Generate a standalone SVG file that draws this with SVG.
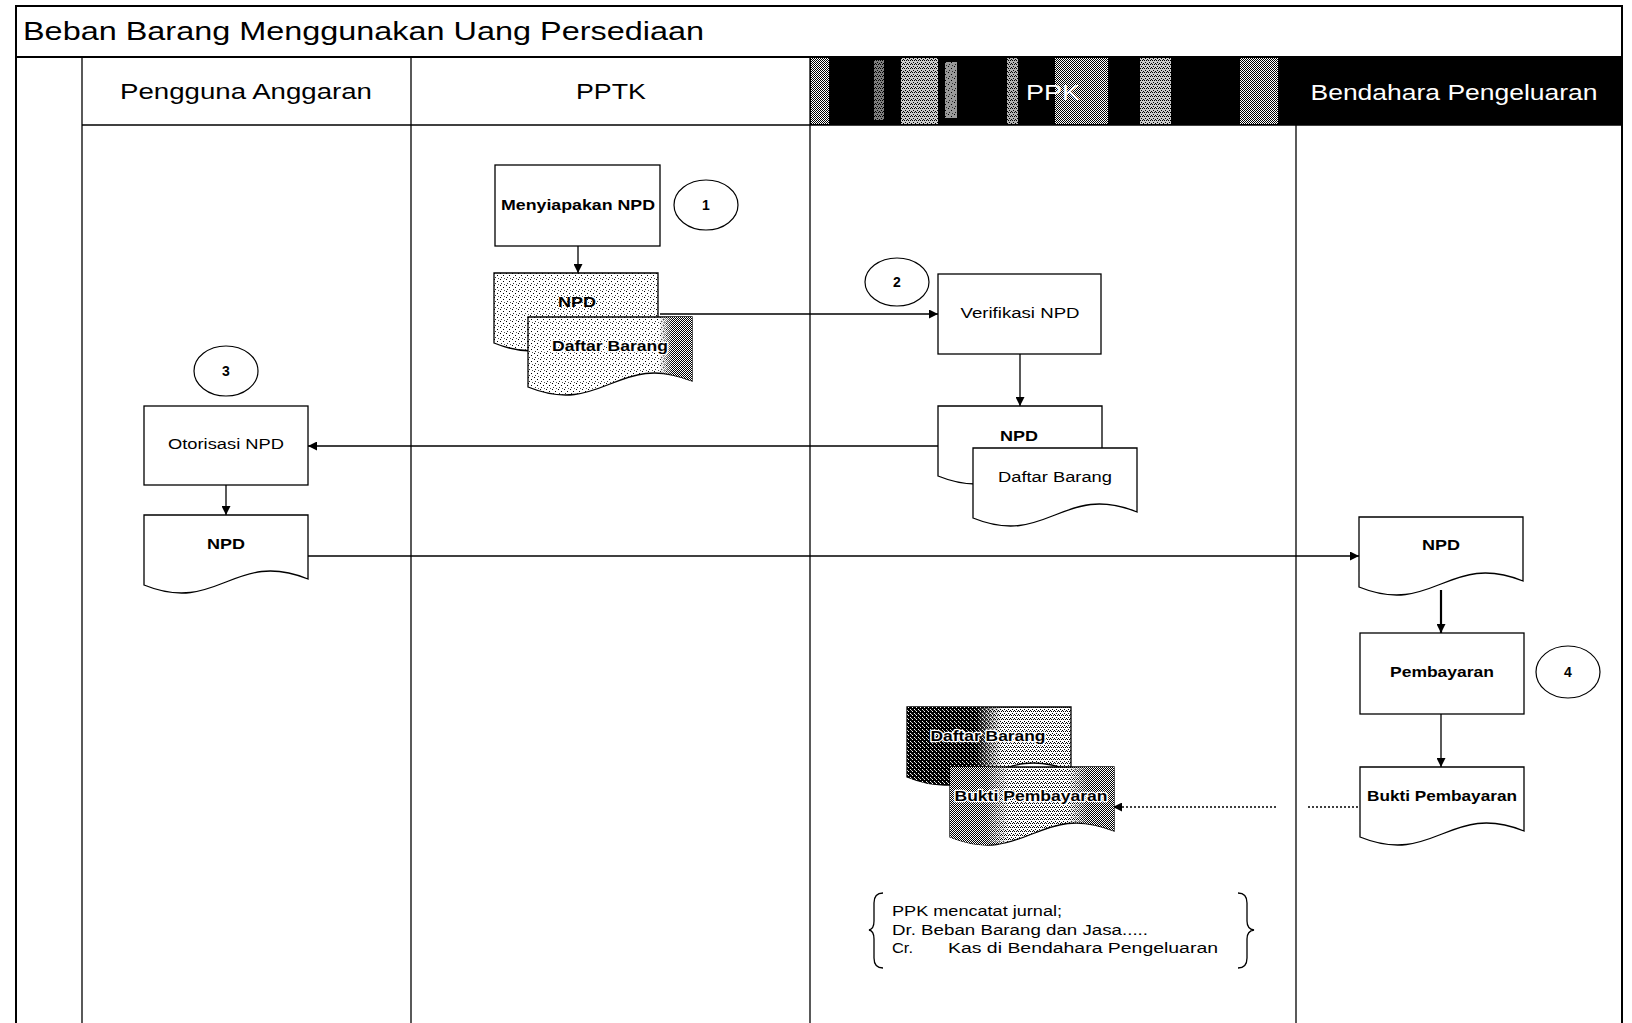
<svg xmlns="http://www.w3.org/2000/svg" xmlns:xlink="http://www.w3.org/1999/xlink" width="1632" height="1023" viewBox="0 0 1632 1023">
<style>
.frame{stroke:#000;stroke-width:2;fill:none}
.ln{stroke:#000;stroke-width:1.3;fill:none}
.box{fill:#fff;stroke:#000;stroke-width:1.3}
.circ{fill:#fff;stroke:#000;stroke-width:1.2}
.doc{stroke:#000;stroke-width:1.3}
.t{font-family:"Liberation Sans",Arial,sans-serif;font-size:14px;text-anchor:middle;fill:#000}
.b{font-weight:bold}
.halo{paint-order:stroke;stroke:#fff;stroke-width:2.5px;stroke-linejoin:round}
.hd{font-family:"Liberation Sans",Arial,sans-serif;font-size:22px;text-anchor:middle}
.note{font-family:"Liberation Sans",Arial,sans-serif;font-size:14px;fill:#000}
.conn{stroke:#000;stroke-width:1.3;fill:none;marker-end:url(#arr)}
</style>
<defs>
<marker id="arr" viewBox="0 0 10 10" refX="10" refY="5" markerWidth="10" markerHeight="9" markerUnits="userSpaceOnUse" orient="auto">
<path d="M0,0 L10,5 L0,10 Z" fill="#000"/>
</marker>
<path id="doc" d="M0,0 H164 V64 C90,34 74,100 0,70 Z"/>
<pattern id="light" width="6" height="6" patternUnits="userSpaceOnUse">
<rect width="6" height="6" fill="#fff"/>
<rect x="0" y="0" width="1" height="1" fill="#000"/>
<rect x="3" y="2" width="1" height="1" fill="#000"/>
<rect x="1" y="4" width="1" height="1" fill="#333"/>
<rect x="4" y="5" width="1" height="1" fill="#555"/>
</pattern>
<pattern id="mid" width="4" height="4" patternUnits="userSpaceOnUse">
<rect width="4" height="4" fill="#fff"/>
<rect x="0" y="0" width="1" height="1" fill="#000"/>
<rect x="2" y="0" width="1" height="1" fill="#000"/>
<rect x="1" y="2" width="1" height="1" fill="#000"/>
<rect x="3" y="3" width="1" height="1" fill="#000"/>
</pattern>
<pattern id="dark" width="2" height="2" patternUnits="userSpaceOnUse">
<rect width="2" height="2" fill="#fff"/>
<rect x="0" y="0" width="1" height="1" fill="#000"/>
<rect x="1" y="1" width="1" height="1" fill="#000"/>
</pattern>
<pattern id="darker" width="4" height="4" patternUnits="userSpaceOnUse">
<rect width="4" height="4" fill="#000"/>
<rect x="1" y="0" width="1" height="1" fill="#fff"/>
<rect x="3" y="2" width="1" height="1" fill="#fff"/>
<rect x="0" y="3" width="1" height="1" fill="#bbb"/>
</pattern>
<linearGradient id="gR"><stop offset="0" stop-color="#000"/><stop offset="0.8" stop-color="#000"/><stop offset="0.88" stop-color="#fff"/><stop offset="1" stop-color="#fff"/></linearGradient>
<linearGradient id="gL"><stop offset="0" stop-color="#fff"/><stop offset="0.42" stop-color="#fff"/><stop offset="0.58" stop-color="#000"/><stop offset="1" stop-color="#000"/></linearGradient>
<linearGradient id="gLR"><stop offset="0" stop-color="#fff"/><stop offset="0.22" stop-color="#fff"/><stop offset="0.36" stop-color="#000"/><stop offset="0.72" stop-color="#000"/><stop offset="0.84" stop-color="#fff"/><stop offset="1" stop-color="#fff"/></linearGradient>
<mask id="mR" maskContentUnits="objectBoundingBox"><rect width="1" height="1" fill="url(#gR)"/></mask>
<mask id="mL" maskContentUnits="objectBoundingBox"><rect width="1" height="1" fill="url(#gL)"/></mask>
<mask id="mLR" maskContentUnits="objectBoundingBox"><rect width="1" height="1" fill="url(#gLR)"/></mask>
</defs>

<rect width="1632" height="1023" fill="#fff"/>

<g id="frame">
<path class="frame" d="M16,1023 V6 H1622 V1023"/>
<line class="frame" x1="16" y1="57" x2="1622" y2="57"/>
<text x="23" y="40" font-family="Liberation Sans, Arial, sans-serif" font-size="25" textLength="681" lengthAdjust="spacingAndGlyphs">Beban Barang Menggunakan Uang Persediaan</text>
</g>

<g id="lanes">
<rect x="810" y="57" width="812" height="68" fill="#000"/>
<rect x="811" y="58" width="18" height="66" fill="url(#dark)"/>
<rect x="874" y="60" width="10" height="60" fill="url(#mid)" opacity="0.5"/>
<rect x="901" y="58" width="37" height="66" fill="url(#mid)" opacity="0.8"/>
<rect x="945" y="62" width="12" height="56" fill="url(#light)" opacity="0.6"/>
<rect x="1007" y="58" width="11" height="66" fill="url(#mid)" opacity="0.7"/>
<rect x="1055" y="58" width="53" height="66" fill="url(#dark)"/>
<rect x="1140" y="58" width="31" height="66" fill="url(#mid)" opacity="0.8"/>
<rect x="1240" y="58" width="38" height="66" fill="url(#dark)"/>
<line class="ln" x1="82" y1="57" x2="82" y2="1023"/>
<line class="ln" x1="411" y1="57" x2="411" y2="1023"/>
<line class="ln" x1="810" y1="57" x2="810" y2="1023"/>
<line class="ln" x1="1296" y1="125" x2="1296" y2="1023"/>
<line class="ln" x1="82" y1="125" x2="1622" y2="125"/>
<text class="hd" x="246" y="99" textLength="252" lengthAdjust="spacingAndGlyphs">Pengguna Anggaran</text>
<text class="hd" x="611" y="99" textLength="70" lengthAdjust="spacingAndGlyphs">PPTK</text>
<text class="hd" x="1053" y="100" textLength="54" lengthAdjust="spacingAndGlyphs" fill="#fff">PPK</text>
<text class="hd" x="1454" y="100" textLength="287" lengthAdjust="spacingAndGlyphs" fill="#fff">Bendahara Pengeluaran</text>
</g>

<g id="connectors">
<line class="conn" x1="578" y1="246" x2="578" y2="273"/>
<line class="conn" x1="660" y1="314" x2="938" y2="314"/>
<line class="conn" x1="1020" y1="354" x2="1020" y2="406"/>
<line class="conn" x1="938" y1="446" x2="308" y2="446"/>
<line class="conn" x1="226" y1="485" x2="226" y2="515"/>
<line class="conn" x1="308" y1="556" x2="1359" y2="556"/>
<line class="conn" x1="1441" y1="590" x2="1441" y2="633" style="stroke-width:2.2"/>
<line class="conn" x1="1441" y1="714" x2="1441" y2="767"/>
<path class="conn" d="M1358,807 H1306 M1276,807 H1113" stroke-dasharray="2,2"/>
</g>

<g id="n1">
<rect class="box" x="495" y="165" width="165" height="81"/>
<text class="t b" x="578" y="210" textLength="154" lengthAdjust="spacingAndGlyphs">Menyiapakan NPD</text>
</g>
<g id="c1">
<ellipse class="circ" cx="706" cy="205" rx="32" ry="25"/>
<text class="t b" x="706" y="210" font-size="13">1</text>
</g>

<g id="d1" transform="translate(494,273)">
<use href="#doc" class="doc" fill="url(#light)"/>
<text class="t b" x="83" y="34" textLength="38" lengthAdjust="spacingAndGlyphs">NPD</text>
</g>
<g id="d2" transform="translate(528,317)">
<use href="#doc" class="doc" fill="url(#light)"/>
<use href="#doc" fill="url(#dark)" mask="url(#mR)"/>
<text class="t b halo" x="82" y="34" textLength="116" lengthAdjust="spacingAndGlyphs">Daftar Barang</text>
</g>

<g id="c2">
<ellipse class="circ" cx="897" cy="282" rx="32" ry="24"/>
<text class="t b" x="897" y="287" font-size="13">2</text>
</g>
<g id="n2">
<rect class="box" x="938" y="274" width="163" height="80"/>
<text class="t" x="1020" y="318" textLength="119" lengthAdjust="spacingAndGlyphs">Verifikasi NPD</text>
</g>

<g id="d3" transform="translate(938,406)">
<use href="#doc" class="doc" fill="#fff"/>
<text class="t b" x="81" y="35" textLength="38" lengthAdjust="spacingAndGlyphs">NPD</text>
</g>
<g id="d4" transform="translate(973,448)">
<use href="#doc" class="doc" fill="#fff"/>
<text class="t" x="82" y="34" textLength="114" lengthAdjust="spacingAndGlyphs">Daftar Barang</text>
</g>

<g id="c3">
<ellipse class="circ" cx="226" cy="371" rx="32" ry="25"/>
<text class="t b" x="226" y="376" font-size="13">3</text>
</g>
<g id="n3">
<rect class="box" x="144" y="406" width="164" height="79"/>
<text class="t" x="226" y="449" textLength="116" lengthAdjust="spacingAndGlyphs">Otorisasi NPD</text>
</g>
<g id="d5" transform="translate(144,515)">
<use href="#doc" class="doc" fill="#fff"/>
<text class="t b" x="82" y="34" textLength="38" lengthAdjust="spacingAndGlyphs">NPD</text>
</g>

<g id="d6" transform="translate(1359,517)">
<use href="#doc" class="doc" fill="#fff"/>
<text class="t b" x="82" y="33" textLength="38" lengthAdjust="spacingAndGlyphs">NPD</text>
</g>
<g id="n4">
<rect class="box" x="1360" y="633" width="164" height="81"/>
<text class="t b" x="1442" y="677" textLength="104" lengthAdjust="spacingAndGlyphs">Pembayaran</text>
</g>
<g id="c4">
<ellipse class="circ" cx="1568" cy="672" rx="32" ry="26"/>
<text class="t b" x="1568" y="677" font-size="13">4</text>
</g>
<g id="d7" transform="translate(1360,767)">
<use href="#doc" class="doc" fill="#fff"/>
<text class="t b" x="82" y="34" textLength="150" lengthAdjust="spacingAndGlyphs">Bukti Pembayaran</text>
</g>

<g id="d8" transform="translate(907,707)">
<use href="#doc" class="doc" fill="url(#mid)"/>
<use href="#doc" fill="url(#darker)" mask="url(#mL)"/>
<text class="t b halo" x="81" y="34" textLength="115" lengthAdjust="spacingAndGlyphs">Daftar Barang</text>
</g>
<g id="d9" transform="translate(950,767)">
<use href="#doc" class="doc" fill="url(#mid)"/>
<use href="#doc" fill="url(#dark)" mask="url(#mLR)"/>
<text class="t b halo" x="81" y="34" textLength="153" lengthAdjust="spacingAndGlyphs">Bukti Pembayaran</text>
</g>

<g id="note">
<path class="ln" d="M883,893 Q874,893 874,903 V921 Q874,929 869,930 Q874,931 874,939 V958 Q874,968 883,968"/>
<path class="ln" d="M1238,893 Q1247,893 1247,903 V921 Q1247,929 1254,930 Q1247,931 1247,939 V958 Q1247,968 1238,968"/>
<text class="note" x="892" y="916" textLength="170" lengthAdjust="spacingAndGlyphs">PPK mencatat jurnal;</text>
<text class="note" x="892" y="935" textLength="256" lengthAdjust="spacingAndGlyphs">Dr. Beban Barang dan Jasa.....</text>
<text class="note" x="892" y="953" textLength="21" lengthAdjust="spacingAndGlyphs">Cr.</text>
<text class="note" x="948" y="953" textLength="270" lengthAdjust="spacingAndGlyphs">Kas di Bendahara Pengeluaran</text>
</g>
</svg>
